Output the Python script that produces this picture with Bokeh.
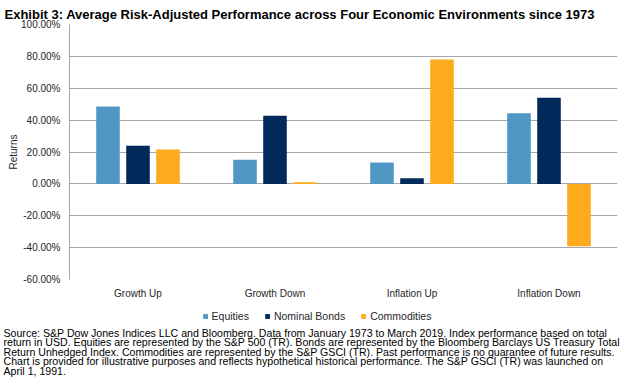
from bokeh.plotting import figure
from bokeh.layouts import column
from bokeh.models import (FactorRange, FixedTicker, PrintfTickFormatter, Title,
                          Legend, LegendItem, ColumnDataSource, Range1d)
from bokeh.transform import dodge
from bokeh.core.properties import value
from bokeh.embed import file_html
from bokeh.resources import INLINE

# ---------------- data ----------------
categories = ["Growth Up", "Growth Down", "Inflation Up", "Inflation Down"]
equities = [48.5, 15.2, 13.4, 44.3]
nominal_bonds = [24.0, 42.8, 3.5, 54.1]
commodities = [21.5, 1.0, 78.0, -39.1]
series_names = ["Equities", "Nominal Bonds", "Commodities"]
y_ticks = [-60, -40, -20, 0, 20, 40, 60, 80, 100]

title_text = "Exhibit 3: Average Risk-Adjusted Performance across Four Economic Environments since 1973"
footnote_lines = [
    "Source: S&P Dow Jones Indices LLC and Bloomberg. Data from January 1973 to March 2019. Index performance based on total",
    "return in USD. Equities are represented by the S&P 500 (TR). Bonds are represented by the Bloomberg Barclays US Treasury Total",
    "Return Unhedged Index. Commodities are represented by the S&P GSCI (TR). Past performance is no guarantee of future results.",
    "Chart is provided for illustrative purposes and reflects hypothetical historical performance. The S&P GSCI (TR) was launched on",
    "April 1, 1991.",
]

# ---------------- styles ----------------
COLORS = ["#4F97C5", "#012A5B", "#FDAB1C"]
FONT = "Liberation Sans"
TXT = "#262626"
W = 633
H1, H2 = 305, 87
FL, FR, FT, FB = 69, 617, 24, 279  # frame edges (page px)

src = ColumnDataSource(dict(cat=categories, eq=equities, nb=nominal_bonds, co=commodities))

# ---------------- main chart ----------------
p = figure(x_range=FactorRange(*categories), y_range=(-60, 100), width=W, height=H1,
           output_backend="svg", toolbar_location=None,
           min_border_left=FL, min_border_right=W - FR, min_border_top=FT,
           min_border_bottom=H1 - FB)
p.outline_line_color = None
p.background_fill_color = "white"
p.border_fill_color = "white"

offs = [-0.219, 0.0, 0.219]
bw = 0.172
for col, off, c in zip(["eq", "nb", "co"], offs, COLORS):
    p.vbar(x=dodge("cat", off, range=p.x_range), top=col, bottom=0, width=bw,
           source=src, fill_color=c, line_color=None)

p.title = Title(text=title_text, align="left", offset=4 - FL, standoff=5,
                text_font=FONT, text_font_style="bold", text_font_size="13px",
                text_color="black")

p.yaxis.ticker = FixedTicker(ticks=y_ticks)
p.yaxis.formatter = PrintfTickFormatter(format="%.2f%%")
p.yaxis.axis_line_color = "#A6A6A6"
p.yaxis.major_tick_line_color = None
p.yaxis.minor_tick_line_color = None
p.yaxis.major_tick_out = 0
p.yaxis.major_label_standoff = 9
p.yaxis.major_label_text_font = FONT
p.yaxis.major_label_text_font_size = "10px"
p.yaxis.major_label_text_color = TXT

# y-axis title, shifted up a little as in the original
p.add_layout(Title(text="Returns", align="center", offset=11, standoff=0,
                   text_font=FONT, text_font_style="normal", text_font_size="10px",
                   text_color=TXT), "left")

p.xaxis.axis_line_color = None
p.xaxis.major_tick_line_color = None
p.xaxis.minor_tick_line_color = None
p.xaxis.major_tick_out = 0
p.xaxis.major_label_standoff = 8
p.xaxis.major_label_text_font = FONT
p.xaxis.major_label_text_font_size = "10px"
p.xaxis.major_label_text_color = TXT

p.xgrid.grid_line_color = None
p.ygrid.ticker = FixedTicker(ticks=y_ticks)
p.ygrid.grid_line_color = "#A6A6A6"
p.ygrid.grid_line_width = 1

# ---------------- legend + footnote ----------------
q = figure(width=W, height=H2, x_range=Range1d(0, W), y_range=Range1d(H2, 0),
           output_backend="svg", toolbar_location=None,
           x_axis_location=None, y_axis_location=None,
           min_border_left=0, min_border_right=0, min_border_top=0, min_border_bottom=0)
q.outline_line_color = None
q.grid.grid_line_color = None
q.background_fill_color = "white"
q.border_fill_color = "white"

# do not align this strip's frame with the chart's frame
for fig in (p, q):
    if "frame_align" in fig.properties():
        fig.frame_align = False

# zero-size proxies that only carry the legend swatch colours
swatches = []
for c in COLORS:
    swatches.append(q.vbar(x=[0], top=[0], bottom=[0], width=0, fill_color=c, line_color=None))
legend = Legend(items=[LegendItem(label=n, renderers=[r]) for n, r in zip(series_names, swatches)],
                orientation="horizontal", location="top_center",
                glyph_width=6, glyph_height=6, label_standoff=4, spacing=15,
                padding=0, margin=5, border_line_color=None, background_fill_alpha=0,
                label_text_font=FONT, label_text_font_size="10.5px", label_text_color=TXT,
                label_height=12)
q.add_layout(legend, "center")

foot_src = ColumnDataSource(dict(
    x=[3] * len(footnote_lines),
    y=[332 - H1 + 9.5 * i for i in range(len(footnote_lines))],
    text=footnote_lines))
q.text(x="x", y="y", text="text", source=foot_src, text_font=value(FONT),
       text_font_size="10.6px", text_color="black", text_baseline="middle", text_align="left")

layout = column(p, q, spacing=0)
layout.margin = (0, 0, 0, 0)

open("out.html", "w").write(file_html(layout, INLINE))
